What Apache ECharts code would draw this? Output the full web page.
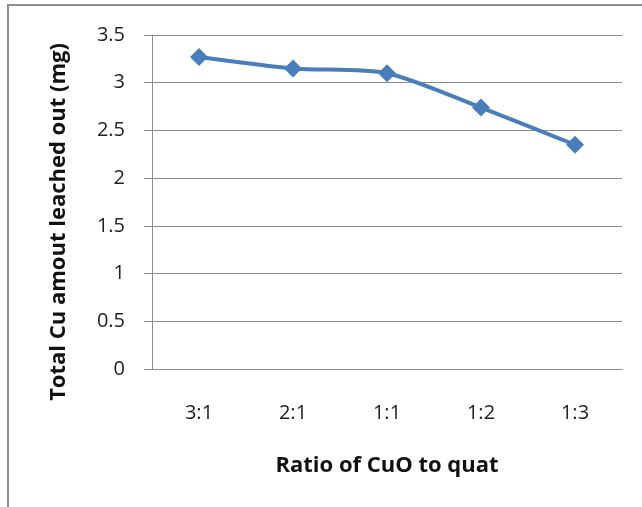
<!DOCTYPE html>
<html>
<head>
<meta charset="utf-8">
<script src="https://cdn.jsdelivr.net/npm/echarts@6/dist/echarts.min.js"></script>
<style>
  html, body { margin: 0; padding: 0; background: #fff; }
  #chart { width: 642px; height: 507px; }
</style>
</head>
<body>
<div id="chart"></div>
<script>
var ratios = ['3:1', '2:1', '1:1', '1:2', '1:3'];
var cuLeached = [3.27, 3.15, 3.10, 2.74, 2.35];
var yTicks = [0, 0.5, 1, 1.5, 2, 2.5, 3, 3.5];

var font = 'Open Sans';
var chart = echarts.init(document.getElementById('chart'));
chart.setOption({
    animation: false,
    backgroundColor: '#fff',
    graphic: [
        // chart frame (only top and left edges visible)
        { type: 'polyline', shape: { points: [[8, 507], [8, 5], [642, 5]] },
          style: { stroke: '#8c8c8c', lineWidth: 2, fill: null } }
    ],
    grid: { left: 152, right: 20, top: 35, bottom: 138 },
    xAxis: {
        type: 'category',
        data: ratios,
        boundaryGap: true,
        name: 'Ratio of CuO to quat',
        nameLocation: 'middle',
        nameGap: 86,
        nameTextStyle: { fontFamily: font, fontSize: 22, fontWeight: 'bold', color: '#111' },
        axisLine: { lineStyle: { color: '#8c8c8c', width: 1 } },
        axisTick: { show: false },
        axisLabel: { fontFamily: font, fontSize: 20, color: '#222', margin: 34 }
    },
    yAxis: {
        type: 'value',
        min: yTicks[0],
        max: yTicks[yTicks.length - 1],
        interval: 0.5,
        name: 'Total Cu amout leached out (mg)',
        nameLocation: 'middle',
        nameGap: 82,
        nameRotate: 90,
        nameTextStyle: { fontFamily: font, fontSize: 22, fontWeight: 'bold', color: '#111',
                         padding: [0, 40, 0, 0] },  // title sits a bit lower than plot centre
        axisLine: { show: true, lineStyle: { color: '#8c8c8c', width: 1 } },
        axisTick: { show: true, length: 8, lineStyle: { color: '#8c8c8c' } },
        splitLine: { lineStyle: { color: '#8c8c8c', width: 1 } },
        axisLabel: { fontFamily: font, fontSize: 20, color: '#222', margin: 27 }
    },
    series: [{
        type: 'line',
        data: cuLeached,
        smooth: 0.25,
        symbol: 'diamond',
        symbolSize: 18,
        lineStyle: { color: '#4a7ebb', width: 4 },
        itemStyle: { color: '#4a7ebb' }
    }]
});
</script>
</body>
</html>
